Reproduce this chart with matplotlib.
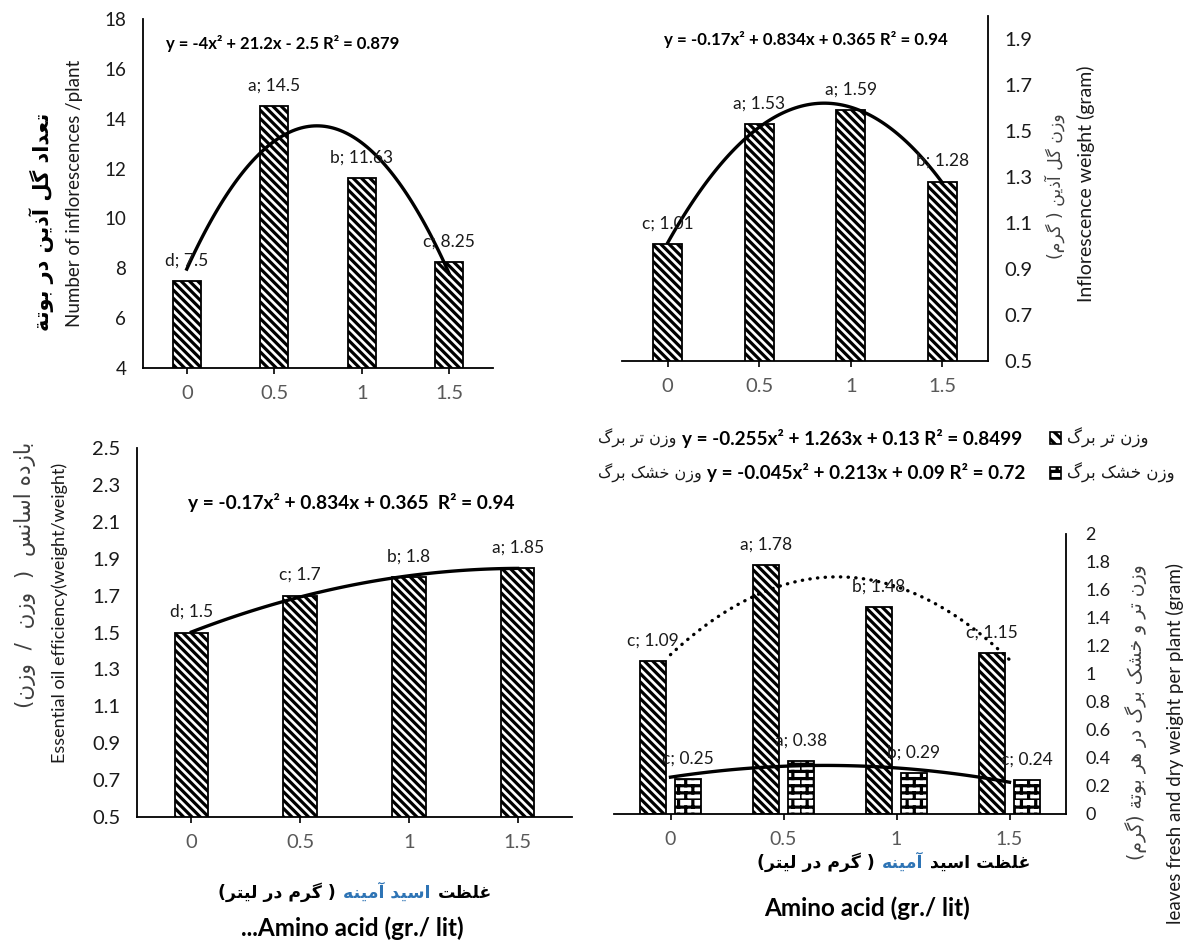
import numpy as np
import matplotlib
matplotlib.use("Agg")
import matplotlib.pyplot as plt
import matplotlib.hatch as mhatch
from matplotlib.path import Path
from matplotlib.patches import Rectangle
from matplotlib.offsetbox import TextArea, HPacker, DrawingArea, AnchoredOffsetbox

# data
doses = ["0", "0.5", "1", "1.5"]
inflor_num = [7.5, 14.5, 11.63, 8.25]
inflor_num_lab = ["d", "a", "b", "c"]
inflor_wt = [1.01, 1.53, 1.59, 1.28]
inflor_wt_lab = ["c", "a", "a", "b"]
oil_eff = [1.5, 1.7, 1.8, 1.85]
oil_eff_lab = ["d", "c", "b", "a"]
leaf_fresh = [1.09, 1.78, 1.48, 1.15]
leaf_fresh_lab = ["c", "a", "b", "c"]
leaf_dry = [0.25, 0.38, 0.29, 0.24]
leaf_dry_lab = ["c", "a", "b", "c"]

eq_num = "y = -4x² + 21.2x - 2.5 R² = 0.879"
eq_wt = "y = -0.17x² + 0.834x + 0.365 R² = 0.94"
eq_oil = "y = -0.17x² + 0.834x + 0.365  R² = 0.94"
eq_fresh = "y = -0.255x² + 1.263x + 0.13 R² = 0.8499"
eq_dry = "y = -0.045x² + 0.213x + 0.09 R² = 0.72"

W, H = 1199, 951
plt.rcParams['font.family'] = ['Lato', 'DejaVu Sans']
plt.rcParams['hatch.linewidth'] = 2.3
FA = ['DejaVu Sans']


# brick hatch, takes the place of the 'o' pattern
class BrickHatch(mhatch.HatchPatternBase):
    def __init__(self, hatch, density):
        self.rows = int(hatch.count('o') * density * 2.4) // 2 * 2
        self.cols = self.rows // 2
        self.num_vertices = 2 * self.rows + 2 * self.rows * self.cols

    def set_vertices_and_codes(self, vertices, codes):
        n, m = self.rows, self.cols
        k = 0
        for r in range(n):
            vertices[k] = (0, r / n)
            vertices[k + 1] = (1, r / n)
            k += 2
        for r in range(n):
            off = 0.5 * (r % 2)
            for c in range(m):
                x = (c + off) / m
                vertices[k] = (x, r / n)
                vertices[k + 1] = (x, (r + 1) / n)
                k += 2
        codes[0::2] = Path.MOVETO
        codes[1::2] = Path.LINETO


mhatch._hatch_types = [BrickHatch if t is mhatch.SmallCircles else t
                       for t in mhatch._hatch_types]

# simple persian shaping (presentation forms) + visual order
FORMS = {
    'ا': ('\uFE8D', '\uFE8E'), 'آ': ('\uFE81', '\uFE82'), 'د': ('\uFEA9', '\uFEAA'),
    'ذ': ('\uFEAB', '\uFEAC'), 'ر': ('\uFEAD', '\uFEAE'), 'ز': ('\uFEAF', '\uFEB0'),
    'و': ('\uFEED', '\uFEEE'), 'ة': ('\uFE93', '\uFE94'),
    'ب': ('\uFE8F', '\uFE90', '\uFE91', '\uFE92'), 'ت': ('\uFE95', '\uFE96', '\uFE97', '\uFE98'),
    'خ': ('\uFEA5', '\uFEA6', '\uFEA7', '\uFEA8'), 'س': ('\uFEB1', '\uFEB2', '\uFEB3', '\uFEB4'),
    'ش': ('\uFEB5', '\uFEB6', '\uFEB7', '\uFEB8'), 'ظ': ('\uFEC5', '\uFEC6', '\uFEC7', '\uFEC8'),
    'ع': ('\uFEC9', '\uFECA', '\uFECB', '\uFECC'), 'غ': ('\uFECD', '\uFECE', '\uFECF', '\uFED0'),
    'ل': ('\uFEDD', '\uFEDE', '\uFEDF', '\uFEE0'), 'م': ('\uFEE1', '\uFEE2', '\uFEE3', '\uFEE4'),
    'ن': ('\uFEE5', '\uFEE6', '\uFEE7', '\uFEE8'), 'ه': ('\uFEE9', '\uFEEA', '\uFEEB', '\uFEEC'),
    'ی': ('\uFBFC', '\uFBFD', '\uFBFE', '\uFBFF'), 'ک': ('\uFB8E', '\uFB8F', '\uFB90', '\uFB91'),
    'گ': ('\uFB92', '\uFB93', '\uFB94', '\uFB95'),
}


def fa(s):
    out = []
    for i, ch in enumerate(s):
        f = FORMS.get(ch)
        if f is None:
            out.append({'(': ')', ')': '('}.get(ch, ch))
            continue
        prev = s[i - 1] if i > 0 else ''
        nxt = s[i + 1] if i + 1 < len(s) else ''
        jp = prev in FORMS and len(FORMS[prev]) == 4
        jn = len(f) == 4 and nxt in FORMS
        if jp and jn:
            out.append(f[3])
        elif jp:
            out.append(f[1])
        elif jn:
            out.append(f[2])
        else:
            out.append(f[0])
    return ''.join(reversed(out))


def rect(l, t, r, b):
    return [l / W, 1 - b / H, (r - l) / W, (b - t) / H]


def P(x, y):
    return x / W, 1 - y / H


fig = plt.figure(figsize=(W / 100, H / 100), dpi=100)


def setup(ax, side, ylim, yticks, ysize, xsize):
    x = np.arange(len(doses))
    ax.set_xlim(-0.5, 3.5)
    ax.set_ylim(*ylim)
    for s in ['top', 'left', 'right', 'bottom']:
        ax.spines[s].set_visible(False)
    ax.spines['bottom'].set_visible(True)
    ax.spines[side].set_visible(True)
    for s in ['bottom', side]:
        ax.spines[s].set_linewidth(1.3)
    ax.set_xticks(x)
    ax.set_xticklabels(doses, fontsize=xsize, color='#595959')
    ax.tick_params(axis='x', length=4, width=1.2, pad=8, direction='out')
    ax.set_yticks(yticks)
    ax.set_yticklabels([f"{v:g}" for v in yticks], fontsize=ysize, color='#1a1a1a')
    if side == 'right':
        ax.yaxis.tick_right()
    ax.tick_params(axis='y', length=0, pad=12)
    ax.patch.set_alpha(0)
    return x


def bars(ax, x, vals, labs, width, hatch, fs=12.5):
    b = ax.bar(x, vals, width, color='white', edgecolor='black', linewidth=1.3, hatch=hatch)
    for rct, v, l in zip(b, vals, labs):
        ax.annotate(f"{l}; {v:g}", (rct.get_x() + rct.get_width() / 2, v),
                    xytext=(0, 9), textcoords='offset points', ha='center', va='bottom',
                    fontsize=fs, color='#1a1a1a')


def trend(ax, x, vals, **kw):
    c = np.polyfit(x, vals, 2)
    xx = np.linspace(x[0], x[-1], 100)
    ax.plot(xx, np.polyval(c, xx), color='black', lw=2.4, **kw)


# top-left: number of inflorescences
ax1 = fig.add_axes(rect(143, 19, 493, 368))
x = setup(ax1, 'left', (4, 18), np.arange(4, 19, 2), 13.5, 14.5)
bars(ax1, x, inflor_num, inflor_num_lab, 0.32, '\\\\\\\\')
trend(ax1, x, inflor_num)
fig.text(*P(166, 43), eq_num, fontsize=12, fontweight='bold', ha='left', va='center')
fig.text(*P(42, 222), fa("تعداد گل آذین در بوتة"), family=FA, fontweight='bold', fontsize=15,
         rotation=90, ha='center', va='center')
fig.text(*P(75, 193), "Number of inflorescences /plant", fontsize=13.5, rotation=90,
         ha='center', va='center', color='#1a1a1a')

# top-right: inflorescence weight
ax2 = fig.add_axes(rect(622, 16, 988, 361))
x = setup(ax2, 'right', (0.5, 2.0), np.round(np.arange(0.5, 1.95, 0.2), 1), 14.5, 14.5)
bars(ax2, x, inflor_wt, inflor_wt_lab, 0.32, '\\\\\\\\')
trend(ax2, x, inflor_wt)
fig.text(*P(806, 40), eq_wt, fontsize=12.2, fontweight='bold', ha='center', va='center')
fig.text(*P(1055, 186), fa("وزن گل آذین ( گرم)"), family=FA, fontsize=12.5, rotation=90,
         ha='center', va='center', color='#404040')
fig.text(*P(1086, 184), "Inflorescence weight (gram)", fontsize=14, rotation=90,
         ha='center', va='center', color='#1a1a1a')

# bottom-left: essential oil efficiency
ax3 = fig.add_axes(rect(137, 448, 572, 817))
x = setup(ax3, 'left', (0.5, 2.5), np.round(np.arange(0.5, 2.55, 0.2), 1), 14.5, 14.5)
bars(ax3, x, oil_eff, oil_eff_lab, 0.31, '\\\\\\\\')
trend(ax3, x, oil_eff)
fig.text(*P(188, 502), eq_oil, fontsize=13.8, fontweight='bold', ha='left', va='center')
fig.text(*P(25, 575), fa("بازده اسانس  (  وزن  /  وزن)"), family=FA, fontsize=15.5, rotation=90,
         ha='center', va='center', color='#404040')
fig.text(*P(60, 613), "Essential oil efficiency(weight/weight)", fontsize=13, rotation=90,
         ha='center', va='center', color='#1a1a1a')

# bottom-right: leaves fresh and dry weight
ax4 = fig.add_axes(rect(614, 534, 1066, 814))
x = setup(ax4, 'right', (0, 2), np.round(np.arange(0, 2.05, 0.2), 1), 13, 14)
ax4.tick_params(axis='y', pad=14)
bars(ax4, x - 0.155, leaf_fresh, leaf_fresh_lab, 0.226, '\\\\\\\\')
bars(ax4, x + 0.155, leaf_dry, leaf_dry_lab, 0.226, 'o')
trend(ax4, x, leaf_fresh, linestyle=(0, (0.1, 2.2)), dash_capstyle='round')
trend(ax4, x, leaf_dry)
fig.text(*P(1136, 712), fa("وزن تر و خشک برگ در هر بوتة (گرم)"), family=FA, fontsize=13.5,
         rotation=90, ha='center', va='center', color='#404040')
fig.text(*P(1175, 743), "leaves fresh and dry weight per plant (gram)", fontsize=13.5,
         rotation=90, ha='center', va='center', color='#1a1a1a')


# legend rows for bottom-right
def legend_row(y, name, eq, hatch):
    left = HPacker(children=[TextArea(fa(name), textprops=dict(family=FA, fontsize=11.5, color='#1a1a1a')),
                             TextArea(eq, textprops=dict(fontsize=13.6, fontweight='bold'))],
                   sep=4, align='center')
    fig.add_artist(AnchoredOffsetbox('center left', child=left, pad=0, borderpad=0, frameon=False,
                                     bbox_to_anchor=P(598, y), bbox_transform=fig.transFigure))
    da = DrawingArea(8, 8)
    da.add_artist(Rectangle((0, 0), 8, 8, facecolor='white', edgecolor='black', lw=1.2, hatch=hatch))
    right = HPacker(children=[da, TextArea(fa(name), textprops=dict(family=FA, fontsize=12, color='#1a1a1a'))],
                    sep=4, align='center')
    fig.add_artist(AnchoredOffsetbox('center left', child=right, pad=0, borderpad=0, frameon=False,
                                     bbox_to_anchor=P(1050, y), bbox_transform=fig.transFigure))


legend_row(438, "وزن تر برگ", eq_fresh, '\\\\\\')
legend_row(473, "وزن خشک برگ", eq_dry, 'o')


# x-axis titles
def xtitle(y, parts):
    kids = [TextArea(t, textprops=dict(family=FA, fontsize=12.5, fontweight='bold', color=c))
            for t, c in parts]
    box = HPacker(children=kids, sep=5, align='baseline')
    fig.add_artist(AnchoredOffsetbox('center', child=box, pad=0, borderpad=0, frameon=False,
                                     bbox_to_anchor=P(*y), bbox_transform=fig.transFigure))


blue = '#2E74B5'
xtitle((355, 892), [(fa("( گرم در لیتر)"), 'black'), (fa("اسید آمینه"), blue), (fa("غلظت"), 'black')])
xtitle((894, 862), [(fa("( گرم در لیتر)"), 'black'), (fa("آمینه"), blue), (fa("غلظت اسید"), 'black')])
fig.text(*P(352, 928), "...Amino acid (gr./ lit)", fontsize=17.5, fontweight='bold', ha='center', va='center')
fig.text(*P(867, 908), "Amino acid (gr./ lit)", fontsize=17.5, fontweight='bold', ha='center', va='center')

fig.savefig("out.png", dpi=100)
